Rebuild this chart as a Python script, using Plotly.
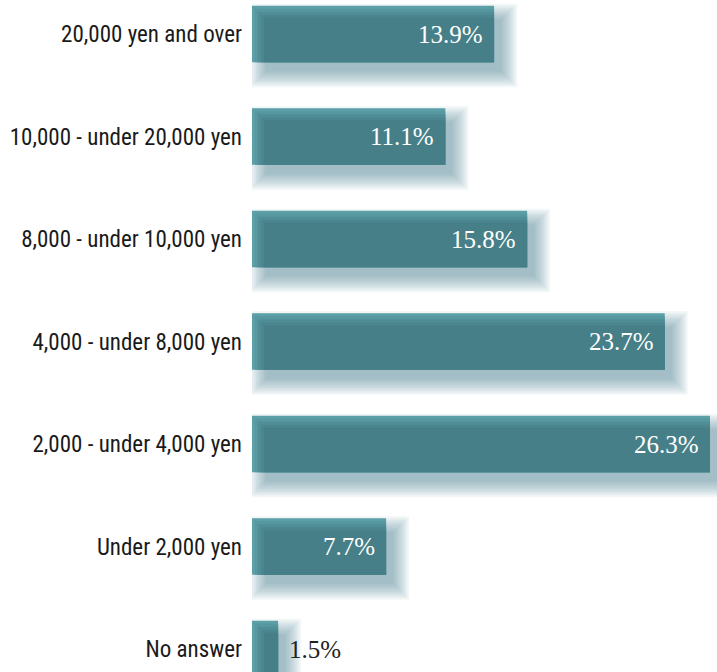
import plotly.graph_objects as go

categories = ["20,000 yen and over", "10,000 - under 20,000 yen", "8,000 - under 10,000 yen",
              "4,000 - under 8,000 yen", "2,000 - under 4,000 yen", "Under 2,000 yen", "No answer"]
values = [13.9, 11.1, 15.8, 23.7, 26.3, 7.7, 1.5]
value_labels = ["13.9%", "11.1%", "15.8%", "23.7%", "26.3%", "7.7%", "1.5%"]

W, H = 717, 672
L = 252
px_per_unit = 458 / 26.3
xmax = (W - L) / px_per_unit
cat_px = 102.5
ytop = -34 / cat_px
ybot = (H - 34) / cat_px

bw = 0.551
boff = -bw / 2
dx = lambda p: p / px_per_unit
dy = lambda p: p / cat_px

SANS_N = "Liberation Sans Narrow, Arial Narrow, Roboto Condensed, DejaVu Sans Condensed, sans-serif"
SERIF = "Liberation Serif, Times New Roman, DejaVu Serif, serif"

fig = go.Figure()

# soft drop shadow: layered translucent rectangles, growing outward
for k in range(8, -1, -1):
    g = 2 * k
    left, right, top, bottom = 14 - g, 7 + g, 14 - g, 9 + g
    fig.add_trace(go.Bar(
        y=categories, x=[v + dx(right) - dx(max(left, 0)) for v in values],
        base=[dx(max(left, 0))] * len(values),
        orientation="h", width=bw - dy(top) + dy(bottom), offset=boff + dy(top),
        marker=dict(color="rgba(75,125,135,0.07)", line=dict(width=0)),
        hoverinfo="skip", showlegend=False))

# main bar (light bevel edge)
fig.add_trace(go.Bar(
    y=categories, x=values, orientation="h", width=bw, offset=boff,
    marker=dict(color="#5c9fa7", line=dict(width=0)), showlegend=False))
# bevel gradient steps
steps = [(3, "#5697a0"), (6, "#508e97"), (9, "#4b868e"), (12, "#467f87")]
for p, col in steps:
    fig.add_trace(go.Bar(
        y=categories, x=[v - dx(p) for v in values], base=[dx(p)] * len(values),
        orientation="h", width=bw - dy(p), offset=boff + dy(p),
        marker=dict(color=col, line=dict(width=0)), hoverinfo="skip", showlegend=False))

for c, v, t in zip(categories, values, value_labels):
    inside = v > 3
    fig.add_annotation(
        x=v, y=c, text=t, showarrow=False,
        xanchor="right" if inside else "left", xshift=-9 if inside else 9,
        font=dict(family=SERIF, size=25, color="white" if inside else "#222222"))

fig.update_layout(
    width=W, height=H, margin=dict(l=L, r=0, t=0, b=0),
    paper_bgcolor="white", plot_bgcolor="white", barmode="overlay", bargap=0.45,
    xaxis=dict(range=[0, xmax], showgrid=False, zeroline=False, showticklabels=False,
               showline=False, fixedrange=True),
    yaxis=dict(range=[ybot, ytop], showgrid=False, zeroline=False, showline=False,
               ticks="", ticklabelstandoff=9,
               tickfont=dict(family=SANS_N, size=23, color="#1a1a1a")),
)

fig.write_html("out.html")
